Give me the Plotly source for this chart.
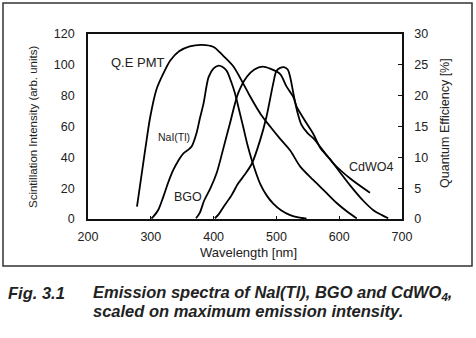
import plotly.graph_objects as go

# ---- data (wavelength in nm, intensity in arb. units) ----
qe_wl = [278, 291, 299, 309, 320, 331, 345, 362, 381, 400, 415, 431, 447, 458, 475, 490, 506, 522, 538, 559, 578, 596, 612, 628]
qe_pct = [2.0, 11.2, 16.5, 21.0, 23.6, 25.7, 27.2, 28.0, 28.25, 27.9, 26.5, 24.8, 22.0, 19.9, 17.0, 15.0, 13.0, 11.1, 8.5, 6.3, 4.4, 2.6, 1.25, 0.1]

nai_wl = [301, 304, 312, 320, 328, 336, 344, 352, 360, 365, 373, 378, 384, 392, 400, 408, 415, 421, 428, 434, 441, 447, 454, 461, 474, 485, 495, 508, 522, 535, 548]
nai_int = [0.3, 1.5, 6, 14.5, 24, 32, 38, 42.6, 45, 47, 56, 65, 75, 92, 97.7, 99.5, 98.5, 96, 89, 81.5, 70, 60, 48, 38, 23, 15, 10, 5.5, 2.5, 1, 0.2]

bgo_wl = [372, 378, 385, 395, 405, 415, 426, 439, 453, 465, 478, 490, 506, 516, 527, 532, 545, 559, 570, 585, 600, 617, 638, 655, 668, 678]
bgo_int = [0.5, 4, 12, 20, 30, 45, 62, 81.5, 92.3, 97, 98.8, 97.5, 94, 86, 79, 73, 64, 55, 46, 39, 31, 22, 12, 5.5, 2.5, 0.5]

cdw_wl = [402, 408, 416, 428, 439, 450, 461, 474, 484, 495, 500, 506, 512, 518, 522, 527, 533, 540, 550, 559, 575, 591, 617, 649]
cdw_int = [0.5, 3, 8, 15, 23, 29, 36, 51, 66, 88, 96, 98, 98.5, 97, 92, 81.5, 70, 61, 55.5, 52.3, 44, 36, 26.4, 17]

FONT = "Arial, Liberation Sans, sans-serif"
line = dict(color="black", width=1.8, shape="spline", smoothing=0.8)

fig = go.Figure()
fig.add_trace(go.Scatter(x=qe_wl, y=qe_pct, mode="lines", line=line, yaxis="y2", name="Q.E PMT"))
fig.add_trace(go.Scatter(x=nai_wl, y=nai_int, mode="lines", line=line, name="NaI(Tl)"))
fig.add_trace(go.Scatter(x=bgo_wl, y=bgo_int, mode="lines", line=line, name="BGO"))
fig.add_trace(go.Scatter(x=cdw_wl, y=cdw_int, mode="lines", line=line, name="CdWO4"))

L, R, T, B = 88, 74, 34, 119
W, H = 476, 338
pw, ph = W - L - R, H - T - B


def px(x):
    return (x - L) / pw


def py(y):
    return (H - B - y) / ph


axis_font = dict(family=FONT, size=12.5, color="#222")
fig.update_layout(
    width=W, height=H,
    margin=dict(l=L, r=R, t=T, b=B),
    paper_bgcolor="white", plot_bgcolor="white",
    showlegend=False,
    font=dict(family=FONT, color="#222"),
    xaxis=dict(range=[200, 700], dtick=100, showgrid=False, zeroline=False,
               showline=True, linecolor="#111", linewidth=1.6, mirror=True,
               ticks="inside", ticklen=3, tickcolor="#111", tickfont=axis_font,
               ticklabelstandoff=5),
    yaxis=dict(range=[0, 120], dtick=20, showgrid=False, zeroline=False,
               showline=True, linecolor="#111", linewidth=1.6,
               ticks="", tickfont=axis_font, ticklabelstandoff=9),
    yaxis2=dict(range=[0, 30], dtick=5, overlaying="y", side="right",
                showgrid=False, zeroline=False, showline=True, linecolor="#111",
                linewidth=1.6, ticks="inside", ticklen=4, tickcolor="#111",
                tickfont=axis_font, ticklabelstandoff=8),
)

ann = []


def add(text, x, y, size, paper=True, angle=0, xanchor="center"):
    d = dict(text=text, x=x, y=y, showarrow=False, textangle=angle,
             xanchor=xanchor, yanchor="middle",
             font=dict(family=FONT, size=size, color="#222"))
    if paper:
        d.update(xref="paper", yref="paper")
    ann.append(d)


# axis titles
add("Scintillation Intensity (arb. units)", px(33), py(127), 11.5, angle=-90)
add("Quantum Efficiency [%]", px(445), py(123), 12.5, angle=-90)
add("Wavelength [nm]", px(248), py(252), 13)
# curve labels
add("Q.E PMT", 279.6, 101.8, 13, paper=False)
add("NaI(Tl)", 337.0, 53.2, 10.5, paper=False)
add("BGO", 360, 14.3, 12.5, paper=False)
add("CdWO4", 651.7, 34, 12.5, paper=False)
# caption
add("<b><i>Fig. 3.1</i></b>", px(6), py(293), 16.5, xanchor="left")
add("<b><i>Emission spectra of NaI(Tl), BGO and CdWO<sub>4</sub>,</i></b>", px(91), py(293), 16.5, xanchor="left")
add("<b><i>scaled on maximum emission intensity.</i></b>", px(91), py(311), 16.5, xanchor="left")
fig.update_layout(annotations=ann)

# outer frame around the chart
fig.add_shape(type="rect", xref="paper", yref="paper", x0=px(3), x1=px(472), y0=py(266), y1=py(3),
              line=dict(color="#333", width=1.5))

fig.write_html("out.html")
